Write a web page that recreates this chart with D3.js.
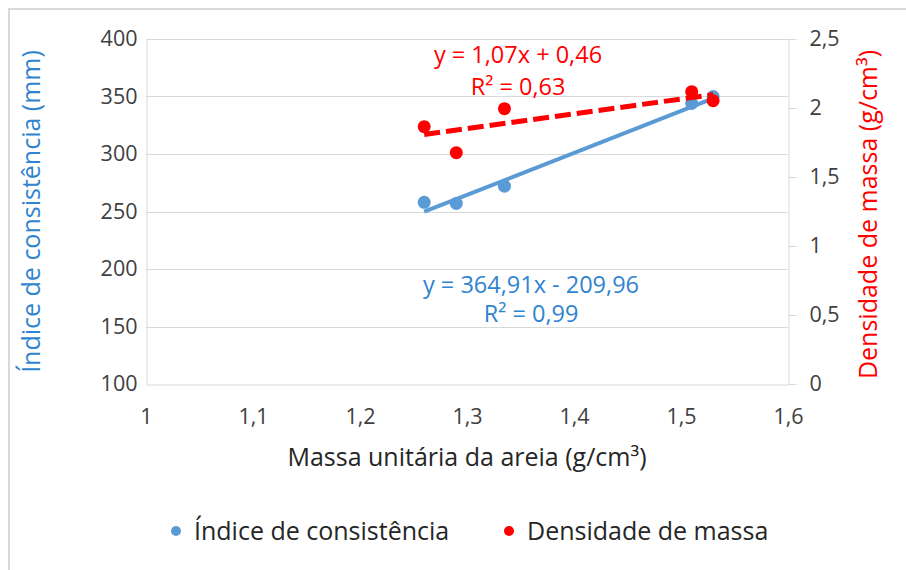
<!DOCTYPE html>
<html>
<head>
<meta charset="utf-8">
<script src="https://cdn.jsdelivr.net/npm/d3@7"></script>
<style>
  body { margin: 0; background: #fff; }
  text { font-family: "Open Sans", sans-serif; }
</style>
</head>
<body>
<svg id="chart"></svg>
<script>
// values
const massa = [1.26, 1.29, 1.335, 1.51, 1.53];
const indice = [258, 257, 272, 344, 350];
const densidade = [1.865, 1.676, 1.995, 2.118, 2.053];

// trendline coefficients as printed on the chart (Índice, Densidade)
const trendSlope = [364.91, 1.07];
const trendIntercept = [-209.96, 0.46];
const trendR2 = [0.99, 0.63];

const xTicks = [1, 1.1, 1.2, 1.3, 1.4, 1.5, 1.6];
const yLeftTicks = [100, 150, 200, 250, 300, 350, 400];
const yRightTicks = [0, 0.5, 1, 1.5, 2, 2.5];

const seriesNames = ["Índice de consistência", "Densidade de massa"];

let width = 906;
let height = 570;
let blue = "#5B9BD5";
let blueText = "#2F84CF";
let red = "#FF0000";
let grid = "#D9D9D9";

let svg = d3.select("#chart")
    .attr("width", width)
    .attr("height", height);

// chart area border (only top/left edges are visible in the picture)
svg.append("rect")
    .attr("x", 9).attr("y", 9)
    .attr("width", 1000).attr("height", 1000)
    .attr("fill", "none")
    .attr("stroke", grid)
    .attr("stroke-width", 2);

let margin = { top: 39, right: 118, bottom: 186, left: 146 };

let xScale = d3.scaleLinear()
    .domain([1, 1.6])
    .range([margin.left, width - margin.right]);

let yLeft = d3.scaleLinear()
    .domain([100, 400])
    .range([height - margin.bottom, margin.top]);

let yRight = d3.scaleLinear()
    .domain([0, 2.5])
    .range([height - margin.bottom, margin.top]);

let comma = d => String(d).replace(".", ",");

// horizontal gridlines
svg.append("g")
    .selectAll("line")
    .data(yLeftTicks.slice(1))
    .enter().append("line")
    .attr("x1", xScale(1)).attr("x2", xScale(1.6))
    .attr("y1", d => Math.round(yLeft(d)) + 0.5)
    .attr("y2", d => Math.round(yLeft(d)) + 0.5)
    .attr("stroke", grid);

// axes
let xAxis = svg.append("g")
    .attr("transform", `translate(0, ${Math.round(yLeft(100)) + 0.5})`)
    .call(d3.axisBottom(xScale).tickValues(xTicks).tickFormat(comma)
        .tickSize(0).tickSizeOuter(0).tickPadding(24));

let yAxisLeft = svg.append("g")
    .attr("transform", `translate(${Math.round(xScale(1)) + 0.5}, 0)`)
    .call(d3.axisLeft(yLeft).tickValues(yLeftTicks)
        .tickSize(0).tickSizeOuter(0).tickPadding(9));

let yAxisRight = svg.append("g")
    .attr("transform", `translate(${Math.round(xScale(1.6)) + 0.5}, 0)`)
    .call(d3.axisRight(yRight).tickValues(yRightTicks).tickFormat(comma)
        .tickSize(8).tickSizeOuter(0).tickPadding(13));

[xAxis, yAxisLeft, yAxisRight].forEach(ax => {
    ax.select(".domain").attr("stroke", grid);
    ax.selectAll(".tick line").attr("stroke", grid);
    ax.selectAll(".tick text")
        .attr("fill", "#404040")
        .style("font-family", "'Open Sans', sans-serif")
        .style("font-size", "21.5px");
});

let pts = massa.map((m, i) => ({ x: m, a: indice[i], b: densidade[i] }));
let xMin = d3.min(massa), xMax = d3.max(massa);

// Índice de consistência: points + linear trendline
svg.selectAll(".pt-a")
    .data(pts)
    .enter().append("circle")
    .attr("class", "pt-a")
    .attr("cx", d => xScale(d.x))
    .attr("cy", d => yLeft(d.a))
    .attr("r", 6.5)
    .attr("fill", blue);

svg.append("line")
    .attr("x1", xScale(xMin)).attr("y1", yLeft(trendSlope[0] * xMin + trendIntercept[0]))
    .attr("x2", xScale(xMax)).attr("y2", yLeft(trendSlope[0] * xMax + trendIntercept[0]))
    .attr("stroke", blue)
    .attr("stroke-width", 4);

// Densidade de massa: points + dashed trendline
svg.selectAll(".pt-b")
    .data(pts)
    .enter().append("circle")
    .attr("class", "pt-b")
    .attr("cx", d => xScale(d.x))
    .attr("cy", d => yRight(d.b))
    .attr("r", 6.5)
    .attr("fill", red);

svg.append("line")
    .attr("x1", xScale(xMin)).attr("y1", yRight(trendSlope[1] * xMin + trendIntercept[1]))
    .attr("x2", xScale(xMax)).attr("y2", yRight(trendSlope[1] * xMax + trendIntercept[1]))
    .attr("stroke", red)
    .attr("stroke-width", 5)
    .attr("stroke-dasharray", "16,6");

// trendline equations
let eq = i => {
    let b = trendIntercept[i];
    return "y = " + comma(d3.format(".2f")(trendSlope[i])) + "x " +
        (b < 0 ? "- " : "+ ") + comma(d3.format(".2f")(Math.abs(b)));
};
let labels = [
    { x: 531, y: 293, text: eq(0), color: blueText },
    { x: 531, y: 322, text: "R² = " + comma(d3.format(".2f")(trendR2[0])), color: blueText },
    { x: 518, y: 63, text: eq(1), color: red },
    { x: 518, y: 95, text: "R² = " + comma(d3.format(".2f")(trendR2[1])), color: red }
];
svg.selectAll(".eq")
    .data(labels)
    .enter().append("text")
    .attr("class", "eq")
    .attr("x", d => d.x)
    .attr("y", d => d.y)
    .attr("text-anchor", "middle")
    .attr("fill", d => d.color)
    .style("font-size", "23.5px")
    .text(d => d.text);

// axis titles
svg.append("text")
    .attr("x", (xScale(1) + xScale(1.6)) / 2)
    .attr("y", 466)
    .attr("text-anchor", "middle")
    .attr("fill", "#262626")
    .style("font-size", "25px")
    .text("Massa unitária da areia (g/cm³)");

svg.append("text")
    .attr("transform", `translate(40, ${(yLeft(100) + yLeft(400)) / 2}) rotate(-90)`)
    .attr("text-anchor", "middle")
    .attr("fill", blueText)
    .style("font-size", "25px")
    .text("Índice de consistência (mm)");

svg.append("text")
    .attr("transform", `translate(877, ${(yRight(0) + yRight(2.5)) / 2 + 3}) rotate(-90)`)
    .attr("text-anchor", "middle")
    .attr("fill", red)
    .style("font-size", "25px")
    .text("Densidade de massa (g/cm³)");

// legend
let legend = svg.append("g")
    .selectAll("g")
    .data(seriesNames)
    .enter().append("g")
    .attr("transform", (d, i) => `translate(${[176, 509][i]}, 531)`);

legend.append("circle")
    .attr("r", 5)
    .attr("fill", (d, i) => [blue, red][i]);

legend.append("text")
    .attr("x", 18)
    .attr("y", 9)
    .attr("fill", "#262626")
    .style("font-size", "25px")
    .text(d => d);
</script>
</body>
</html>
